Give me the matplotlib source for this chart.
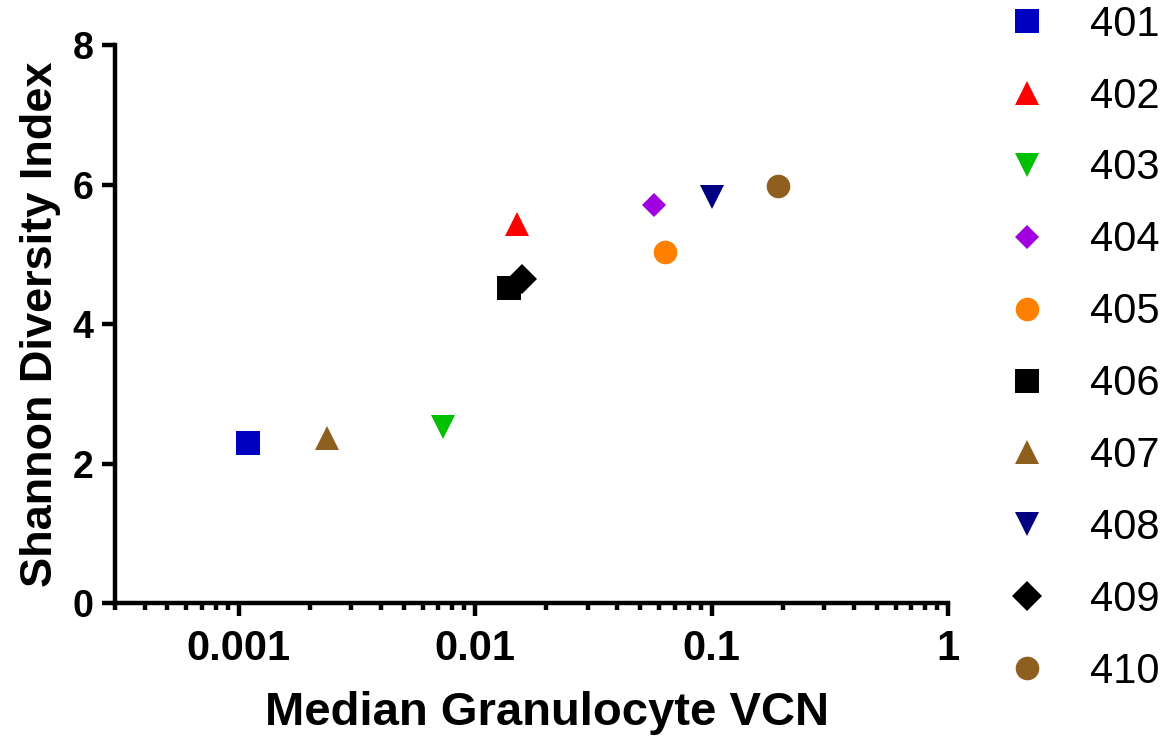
import matplotlib
matplotlib.use("Agg")
import matplotlib.pyplot as plt
import numpy as np

plt.rcParams["font.family"] = ["Liberation Sans", "DejaVu Sans"]

# one point per patient
labels = ["401", "402", "403", "404", "405", "406", "407", "408", "409", "410"]
vcn = [0.0011, 0.0150, 0.0073, 0.0573, 0.0638, 0.0139, 0.00237, 0.1, 0.0158, 0.191]
shannon = [2.29, 5.44, 2.53, 5.71, 5.03, 4.51, 2.37, 5.82, 4.65, 5.98]
markers = ["s", "^", "v", "D", "o", "s", "^", "v", "D", "o"]
colors = ["#0000C0", "#FF0000", "#00C000", "#A000E0", "#FF8000",
          "#000000", "#8F5F20", "#000080", "#000000", "#8F5F20"]
sizes = [17, 17, 17, 12, 17, 17, 17, 17, 15, 17]

fig = plt.figure(figsize=(11.72, 7.4), dpi=100)
ax = fig.add_axes([0.0981, 0.1851, 0.8089 - 0.0981, 0.9392 - 0.1851])

for x, y, lab, m, c, s in zip(vcn, shannon, labels, markers, colors, sizes):
    ax.plot([x], [y], linestyle="none", marker=m, color=c, markersize=s,
            markeredgewidth=0, label=lab, clip_on=False)

ax.set_xscale("log")
ax.set_xlim(0.0003, 1)
ax.set_ylim(0, 8)
ax.set_yticks([0, 2, 4, 6, 8])
ax.set_xticks([0.001, 0.01, 0.1, 1])
ax.set_xticklabels(["0.001", "0.01", "0.1", "1"])

for side in ["top", "right"]:
    ax.spines[side].set_visible(False)
for side in ["left", "bottom"]:
    ax.spines[side].set_linewidth(3.2)
    ax.spines[side].set_capstyle("projecting")

ax.tick_params(axis="both", which="major", direction="out", length=9.5, width=3.2)
ax.tick_params(axis="x", which="minor", direction="out", length=5.2, width=3.2)
ax.tick_params(axis="x", which="major", labelsize=30, pad=9)
ax.tick_params(axis="y", which="major", labelsize=27, pad=6)
for t in ax.get_xticklabels() + ax.get_yticklabels():
    t.set_fontweight("bold")

ax.set_xlabel("Median Granulocyte VCN", fontsize=34, fontweight="bold")
ax.xaxis.set_label_coords(0.519, -0.158)
ax.set_ylabel("Shannon Diversity Index", fontsize=32.5, fontweight="bold", labelpad=8)

leg = ax.legend(loc="upper left", bbox_to_anchor=(1.05, 1.102), frameon=False,
                fontsize=30, labelspacing=0.765, handletextpad=1.0,
                handlelength=1.0, borderaxespad=0)

fig.savefig("out.png", dpi=100)
